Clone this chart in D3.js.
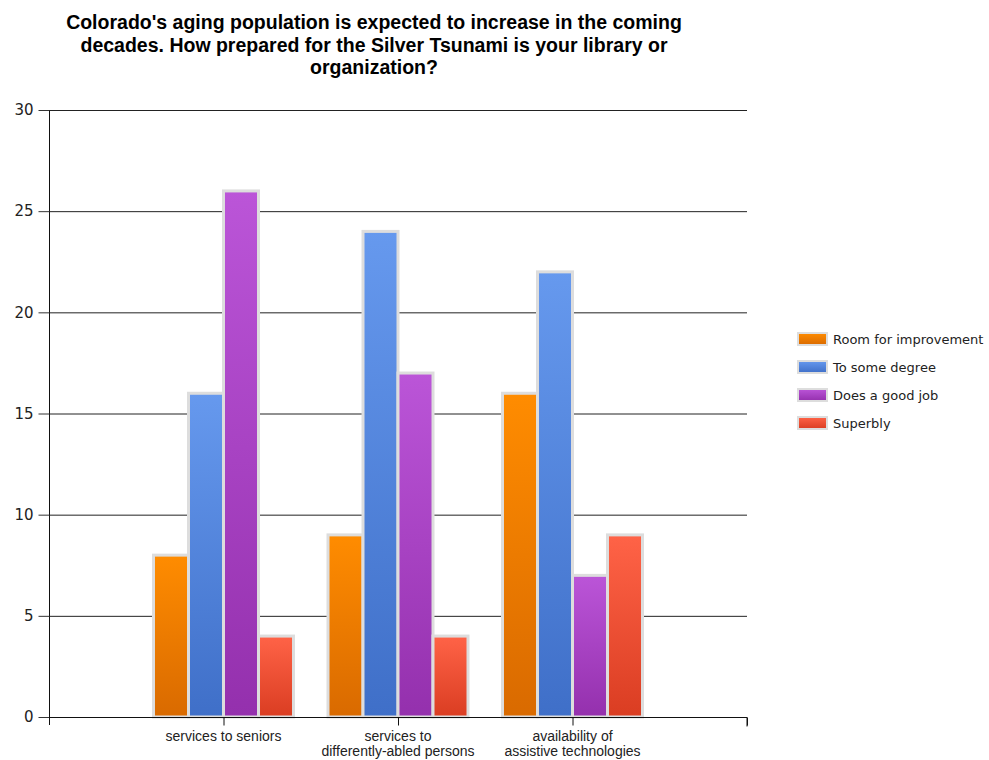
<!DOCTYPE html>
<html>
<head>
<meta charset="utf-8">
<script src="https://cdn.jsdelivr.net/npm/d3@7"></script>
<style>
    body { margin: 0; background: #fff; }
    svg { display: block; font-family: "Liberation Sans", Arial, sans-serif; }
</style>
</head>
<body>
<svg id="chart" width="989" height="760"></svg>
<script>
const titleLines = [
    "Colorado's aging population is expected to increase in the coming",
    "decades. How prepared for the Silver Tsunami is your library or",
    "organization?"
];
const categories = ["services to seniors", "services to differently-abled persons", "availability of assistive technologies"];
const categoryLabels = [["services to seniors"], ["services to", "differently-abled persons"], ["availability of", "assistive technologies"]];
const seriesNames = ["Room for improvement", "To some degree", "Does a good job", "Superbly"];
const roomForImprovement = [8, 9, 16];
const toSomeDegree = [16, 24, 22];
const doesAGoodJob = [26, 17, 7];
const superbly = [4, 4, 9];
const yTicks = [0, 5, 10, 15, 20, 25, 30];

// gradient stops: top, bottom
const colors = [
    ['#ff8c00', '#d96a00'],
    ['#6699ee', '#3f6fc8'],
    ['#bb55d8', '#9430ad'],
    ['#ff6347', '#da3d22']
];

const seriesValues = [roomForImprovement, toSomeDegree, doesAGoodJob, superbly];

const svg = d3.select('#chart');
const margin = {left: 49, right: 747, top: 110, bottom: 717};
const BAR_W = 35;

const defs = svg.append('defs');
colors.forEach((c, i) => {
    const g = defs.append('linearGradient')
        .attr('id', 'grad' + i)
        .attr('x1', 0).attr('y1', 0).attr('x2', 0).attr('y2', 1);
    g.append('stop').attr('offset', '0%').attr('stop-color', c[0]);
    g.append('stop').attr('offset', '100%').attr('stop-color', c[1]);
});

// title
svg.append('g').selectAll('text')
    .data(titleLines)
    .enter()
    .append('text')
    .attr('x', 374)
    .attr('y', (d, i) => 29 + i * 22.5)
    .attr('text-anchor', 'middle')
    .style('font-size', '19.5px')
    .style('font-weight', 'bold')
    .text(d => d);

const x = d3.scaleLinear()
    .domain([0, categories.length + 1])
    .range([margin.left, margin.right]);
const y = d3.scaleLinear()
    .domain([0, 30])
    .range([margin.bottom, margin.top]);

// grid lines
svg.append('g').selectAll('line')
    .data(yTicks.filter(d => d > 0))
    .enter()
    .append('line')
    .attr('x1', margin.left).attr('x2', margin.right)
    .attr('y1', d => y(d) + 0.5).attr('y2', d => y(d) + 0.5)
    .attr('stroke', '#222')
    .attr('stroke-width', 1);

// bars
const groups = svg.append('g').selectAll('g.series')
    .data(seriesValues)
    .enter()
    .append('g')
    .attr('class', 'series');

groups.selectAll('rect')
    .data((vals, si) => vals.map((v, ci) => ({v, ci, si})))
    .enter()
    .append('rect')
    .attr('x', d => x(d.ci + 1) - 2 * BAR_W + d.si * BAR_W)
    .attr('width', BAR_W)
    .attr('y', d => y(d.v))
    .attr('height', d => y(0) - y(d.v))
    .attr('fill', d => 'url(#grad' + d.si + ')')
    .attr('stroke', '#dddddd')
    .attr('stroke-width', 3);

// y axis
const yAxis = svg.append('g')
    .attr('transform', 'translate(' + (margin.left + 0.5) + ',0)')
    .call(d3.axisLeft(y).tickValues(yTicks).tickSize(11).tickPadding(5));
yAxis.select('.domain').attr('stroke', '#111').attr('d', 'M0,' + margin.top + 'V' + (margin.bottom + 8));
yAxis.selectAll('.tick line').attr('stroke', '#333');
yAxis.selectAll('.tick text')
    .style('font-size', '15px')
    .style('font-family', '"DejaVu Sans", sans-serif')
    .attr('fill', '#222');

// x axis
const xAxis = svg.append('g')
    .attr('transform', 'translate(0,' + (margin.bottom + 0.5) + ')')
    .call(d3.axisBottom(x).tickValues([1, 2, 3, 4]).tickSize(8).tickFormat(''));
xAxis.select('.domain').attr('stroke', '#111').attr('d', 'M' + margin.left + ',0H' + margin.right + 'V9');
xAxis.selectAll('.tick line').attr('stroke', '#111');

svg.append('g').selectAll('text')
    .data(categoryLabels)
    .enter()
    .append('text')
    .attr('x', (d, i) => x(i + 1))
    .attr('y', margin.bottom + 24)
    .attr('text-anchor', 'middle')
    .style('font-size', '14px')
    .attr('fill', '#222')
    .selectAll('tspan')
    .data(d => d)
    .enter()
    .append('tspan')
    .attr('x', function () { return d3.select(this.parentNode).attr('x'); })
    .attr('dy', (d, i) => i === 0 ? 0 : 15)
    .text(d => d);

// legend
const legend = svg.append('g')
    .attr('transform', 'translate(798,333)')
    .selectAll('g')
    .data(seriesNames)
    .enter()
    .append('g')
    .attr('transform', (d, i) => 'translate(0,' + i * 28 + ')');
legend.append('rect')
    .attr('width', 29).attr('height', 12)
    .attr('fill', (d, i) => 'url(#grad' + i + ')')
    .attr('stroke', '#dddddd')
    .attr('stroke-width', 2);
legend.append('text')
    .attr('x', 35).attr('y', 11)
    .style('font-size', '13px')
    .style('font-family', '"DejaVu Sans", sans-serif')
    .attr('fill', '#222')
    .text(d => d);
</script>
</body>
</html>
